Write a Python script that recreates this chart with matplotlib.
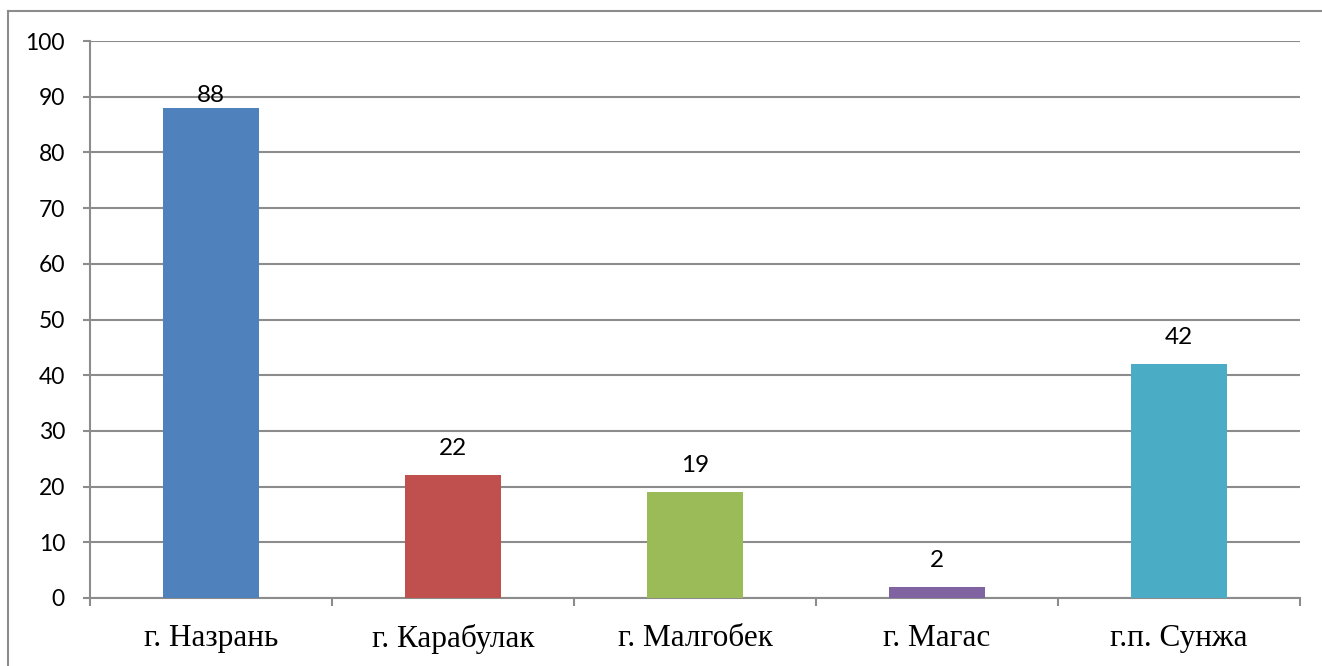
import matplotlib
matplotlib.use("Agg")
import matplotlib.pyplot as plt
from matplotlib.lines import Line2D
import numpy as np

categories = ["г. Назрань", "г. Карабулак", "г. Малгобек", "г. Магас", "г.п. Сунжа"]
values = [88, 22, 19, 2, 42]
colors = ["#4F81BD", "#C0504D", "#9BBB59", "#8064A2", "#4BACC6"]
yticks = [0, 10, 20, 30, 40, 50, 60, 70, 80, 90, 100]

W, H = 1322, 666
fig = plt.figure(figsize=(W / 100, H / 100), dpi=100)
ax = fig.add_axes([90 / W, 1 - 598 / H, 1210 / W, (598 - 41) / H])

x = np.arange(len(categories))
bars = ax.bar(x, values, width=0.4, color=colors, zorder=3)
# label baseline offset above bar top (points); the tallest label sits closer, as in the original
label_offsets = [4.3, 14.4, 14.4, 14.4, 14.4]
for xi, v, off in zip(x, values, label_offsets):
    ax.annotate(str(v), (xi, v), xytext=(0, off), textcoords="offset points",
                ha="center", va="baseline", fontsize=17.5, family="Lato", color="black", zorder=4)

ax.set_xlim(-0.5, len(categories) - 0.5)
ax.set_ylim(0, 100)
ax.set_yticks(yticks)
ax.set_yticklabels([str(t) for t in yticks], fontsize=16.5, family="Lato")
ax.yaxis.grid(True, color="#8c8c8c", linewidth=1.5, zorder=0)
ax.tick_params(axis="y", length=5, width=1.5, color="#8c8c8c", pad=13)

ax.set_xticks(x)
ax.set_xticklabels(categories, fontsize=22.5, family="Liberation Serif")
ax.tick_params(axis="x", which="major", length=0, pad=19)
ax.set_xticks(np.arange(-0.5, len(categories)), minor=True)
ax.tick_params(axis="x", which="minor", length=6, width=1.5, color="#8c8c8c", direction="out")

for s in ["top", "right"]:
    ax.spines[s].set_visible(False)
for s in ["left", "bottom"]:
    ax.spines[s].set_color("#8c8c8c")
    ax.spines[s].set_linewidth(1.5)

# outer chart frame (top and left edges visible)
fig.add_artist(Line2D([8 / W, 1.0], [1 - 11 / H, 1 - 11 / H], transform=fig.transFigure,
                      color="#8c8c8c", linewidth=1.5))
fig.add_artist(Line2D([8 / W, 8 / W], [0, 1 - 11 / H], transform=fig.transFigure,
                      color="#8c8c8c", linewidth=1.5))

fig.savefig("out.png", dpi=100)
